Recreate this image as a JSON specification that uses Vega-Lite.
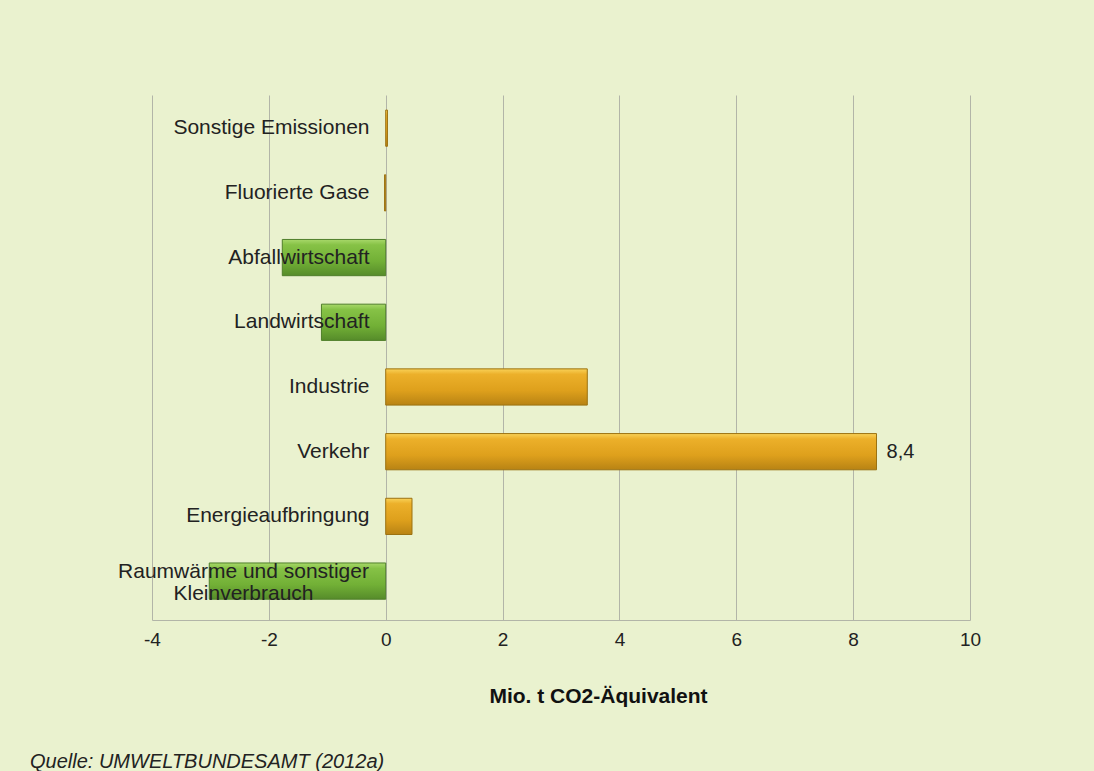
{
  "$schema": "https://vega.github.io/schema/vega-lite/v6.json",
  "width": 818,
  "height": 525,
  "autosize": "none",
  "padding": {"left": 152, "top": 95, "right": 124, "bottom": 151},
  "background": "#eaf2cf",
  "config": {
    "view": {"stroke": null},
    "font": "Liberation Sans"
  },
  "title": {
    "text": "Quelle: UMWELTBUNDESAMT (2012a)",
    "orient": "bottom",
    "anchor": "start",
    "frame": "group",
    "dx": -122,
    "offset": 46,
    "fontSize": 20,
    "fontStyle": "italic",
    "fontWeight": "normal",
    "color": "#222222",
    "font": "Liberation Sans"
  },
  "data": {
    "values": [
      {"sektor": "Sonstige Emissionen", "wert": 0.03, "gruppe": "Zunahme"},
      {"sektor": "Fluorierte Gase", "wert": -0.02, "gruppe": "Zunahme"},
      {"sektor": "Abfallwirtschaft", "wert": -1.77, "gruppe": "Abnahme"},
      {"sektor": "Landwirtschaft", "wert": -1.1, "gruppe": "Abnahme"},
      {"sektor": "Industrie", "wert": 3.45, "gruppe": "Zunahme"},
      {"sektor": "Verkehr", "wert": 8.4, "gruppe": "Zunahme", "beschriftung": "8,4"},
      {"sektor": "Energieaufbringung", "wert": 0.45, "gruppe": "Zunahme"},
      {"sektor": "Raumwärme und sonstiger Kleinverbrauch", "wert": -3.02, "gruppe": "Abnahme"}
    ]
  },
  "encoding": {
    "y": {
      "field": "sektor",
      "type": "nominal",
      "sort": ["Sonstige Emissionen", "Fluorierte Gase", "Abfallwirtschaft", "Landwirtschaft", "Industrie", "Verkehr", "Energieaufbringung", "Raumwärme und sonstiger Kleinverbrauch"],
      "scale": {"paddingInner": 0.44, "paddingOuter": 0.277, "align": 0.42},
      "axis": {
        "title": null,
        "offset": -235,
        "zindex": 2,
        "domain": false,
        "ticks": false,
        "grid": false,
        "labelAlign": {"condition": {"test": "datum.value == 'Raumwärme und sonstiger Kleinverbrauch'", "value": "center"}, "value": "right"},
        "labelPadding": {"condition": {"test": "datum.value == 'Raumwärme und sonstiger Kleinverbrauch'", "value": 144}, "value": 18},
        "labelOffset": {"condition": {"test": "datum.value == 'Raumwärme und sonstiger Kleinverbrauch'", "value": -9}, "value": 0},
        "labelFontSize": 21,
        "labelColor": "#222222",
        "labelLimit": 500,
        "labelLineHeight": 22,
        "labelExpr": "datum.value == 'Raumwärme und sonstiger Kleinverbrauch' ? ['Raumwärme und sonstiger', 'Kleinverbrauch'] : datum.value"
      }
    },
    "x": {
      "field": "wert",
      "type": "quantitative",
      "scale": {"domain": [-4, 10], "nice": false, "zero": false},
      "axis": {
        "title": "Mio. t CO2-Äquivalent",
        "titleFontSize": 21,
        "titleFontWeight": "bold",
        "titleColor": "#111111",
        "titlePadding": 36,
        "titleX": 446,
        "values": [-4, -2, 0, 2, 4, 6, 8, 10],
        "grid": true,
        "gridColor": "#b2b5a8",
        "gridWidth": 1,
        "domain": true,
        "domainColor": "#b2b5a8",
        "ticks": false,
        "labelFlush": false,
        "labelPadding": 10,
        "labelFontSize": 19,
        "labelColor": "#222222",
        "labelExpr": "replace(format(datum.value, 'd'), '−', '-')"
      }
    }
  },
  "layer": [
    {
      "transform": [{"filter": "datum.gruppe == 'Abnahme'"}],
      "mark": {
        "type": "bar",
        "stroke": "#4f7f2a",
        "strokeWidth": 1,
        "fill": {
          "gradient": "linear",
          "x1": 0, "y1": 0, "x2": 0, "y2": 1,
          "stops": [
            {"offset": 0, "color": "#a8d86a"},
            {"offset": 0.15, "color": "#86c246"},
            {"offset": 0.6, "color": "#72b036"},
            {"offset": 1, "color": "#568c2a"}
          ]
        }
      }
    },
    {
      "transform": [{"filter": "datum.gruppe == 'Zunahme'"}],
      "mark": {
        "type": "bar",
        "stroke": "#9b7212",
        "strokeWidth": 1,
        "fill": {
          "gradient": "linear",
          "x1": 0, "y1": 0, "x2": 0, "y2": 1,
          "stops": [
            {"offset": 0, "color": "#f9d258"},
            {"offset": 0.15, "color": "#ecb02a"},
            {"offset": 0.6, "color": "#dea01c"},
            {"offset": 1, "color": "#b88314"}
          ]
        }
      }
    },
    {
      "transform": [{"filter": "isValid(datum.beschriftung)"}],
      "mark": {"type": "text", "align": "left", "dx": 10, "fontSize": 20, "color": "#222222"},
      "encoding": {"text": {"field": "beschriftung"}}
    }
  ]
}
